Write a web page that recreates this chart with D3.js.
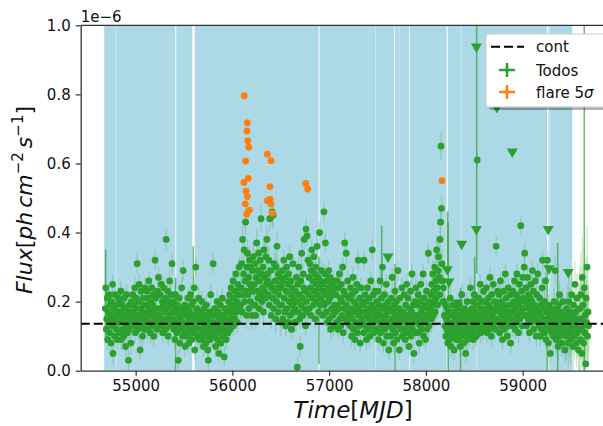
<!DOCTYPE html>
<html>
<head>
<meta charset="utf-8">
<script src="https://cdn.jsdelivr.net/npm/d3@7"></script>
<style>
  html, body { margin: 0; padding: 0; background: #fff; }
  svg { display: block; font-family: "DejaVu Sans", sans-serif; }
</style>
</head>
<body>
<svg id="chart" width="603" height="426"></svg>
<script>
// ticks
const xTicks = [55000, 56000, 57000, 58000, 59000];
const yTicks = [0.0, 0.2, 0.4, 0.6, 0.8, 1.0];

// light curve bins (MJD), flux in units of 1e-8 ph cm^-2 s^-1
const binStart = 54686;
const binWidth = 5;
const fluxTodos = [
  18,24,12,15,21,9,17,14,22,11,19,16,8,20,13,25,5,15,18,10,22,14,17,12,19,9,16,21,
  14,20,11,17,23,9,15,19,12,16,10,21,14,18,7,13,22,15,11,17,3,12,19,14,16,8,20,13,
  17,22,13,19,15,24,11,18,21,14,31,16,12,20,25,15,6,18,23,13,17,10,21,16,19,12,24,14,
  19,15,23,12,17,21,26,14,18,11,20,16,24,13,19,22,10,17,15,32,21,14,18,12,23,16,27,13,
  16,22,18,13,25,15,20,11,19,24,14,17,21,12,38,18,15,23,10,20,16,26,13,19,22,14,31,17,
  15,20,12,18,9,22,14,17,11,19,13,3,16,21,8,15,18,12,24,14,10,29,17,13,19,7,16,11,
  13,18,10,21,15,8,17,12,22,14,19,9,16,11,20,13,24,6,15,30,12,18,10,17,14,21,9,16,
  12,17,9,15,20,11,14,7,18,13,10,16,8,19,12,15,6,3,14,11,17,9,22,13,10,16,12,31,
  14,10,18,12,7,16,11,20,9,13,17,5,15,12,19,8,14,11,21,10,16,13,4,18,12,15,9,17,
  13,18,11,20,15,22,12,17,24,14,19,16,26,13,21,18,15,23,28,17,20,14,25,19,22,30,18,24,
  19,24,31,17,38,22,28,35,20,26,43,23,16,30,34,22,27,18,32,25,20,30,24,16,29,23,33,19,
  25,19,31,16,27,37,23,29,21,34,18,26,32,22,44,28,20,24,30,17,35,23,27,21,33,25,38,28,
  26,22,32,19,44,25,29,16,24,46,21,45,18,31,23,26,15,30,20,36,24,17,28,22,27,19,25,14,
  24,19,29,15,26,32,21,17,27,13,23,30,18,25,14,28,20,33,16,22,26,12,24,19,31,17,21,14,
  18,23,14,27,20,1,25,17,30,22,15,7,26,19,34,21,16,28,24,38,18,23,13,41,20,39,17,32,
  22,27,18,31,24,16,29,35,21,26,19,33,23,28,15,30,25,20,36,22,27,17,24,40,19,26,21,29,
  20,25,16,23,46,19,28,37,22,17,26,14,24,20,29,15,21,27,12,23,18,25,16,22,13,26,19,24,
  17,22,14,26,19,12,24,18,28,15,21,13,25,20,16,30,11,23,18,37,22,15,34,19,14,26,17,21,
  16,21,13,24,18,10,22,15,27,12,20,17,9,23,14,19,25,11,18,32,16,13,21,8,17,24,15,20,
  14,19,11,32,17,22,13,20,9,16,24,12,18,15,21,10,17,26,13,19,35,14,22,11,18,16,23,12,
  15,20,12,17,23,9,19,14,26,11,16,21,13,30,18,8,15,22,12,19,16,25,10,17,14,20,6,18,
  13,18,10,21,15,27,12,17,8,19,14,23,11,16,20,9,15,29,13,18,6,21,14,17,12,24,10,16,
  17,12,22,15,9,19,14,25,11,16,21,13,7,18,15,23,10,17,28,12,19,14,5,16,20,11,24,15,
  14,19,11,22,16,8,20,13,25,17,12,18,15,28,10,21,14,19,9,16,23,12,18,15,34,13,20,17,
  18,22,15,25,19,28,16,23,20,30,17,26,21,35,24,19,29,33,27,22,38,43,65,47,31,26,20,24,
  20,16,13,19,10,15,12,18,8,14,11,17,9,21,13,7,16,12,19,10,14,6,17,11,15,13,9,18,
  12,16,9,14,19,11,7,15,13,22,10,17,12,8,14,18,11,5,16,13,20,9,15,12,17,10,14,24,
  15,11,18,13,20,9,16,22,12,17,14,10,19,61,15,12,21,16,13,25,11,18,14,20,17,12,23,15,
  16,20,13,18,24,11,17,14,21,19,12,27,15,18,10,22,16,13,25,17,14,20,12,18,36,15,19,23,
  18,14,22,11,17,26,13,20,16,9,19,15,23,12,18,28,14,21,17,10,16,24,13,19,15,22,8,17,
  19,15,23,13,20,17,26,12,18,22,14,28,16,21,11,19,25,15,20,42,17,23,13,27,18,21,30,34,
  20,16,24,13,19,27,15,22,18,11,21,17,25,14,20,29,16,23,12,19,15,26,18,10,22,17,28,14,
  17,13,21,10,16,19,12,24,32,15,18,11,20,14,26,9,17,13,32,15,8,19,12,16,5,14,18,11,
  13,17,10,15,20,12,29,14,9,18,11,16,7,19,13,22,10,15,12,17,8,14,20,11,16,13,6,15,
  14,10,18,12,16,8,20,13,11,17,9,15,22,12,16,7,19,14,10,25,13,17,8,21,11,15,6,18,
  12,18,9,22,15,5,27,13,19,8,24,11,16,2,21,14,30,10,17,13
];
// typical 1-sigma error per block of 28 bins (1e-8)
const blockErr = [3,3,3,3,3,3,3,3,3,3,4,4,4,3,3,3,3,3,3,3,3,3,3,3,4,3,3,3,3,3,3,3,3,4,7,12];

// bins with large error bars (MJD, low, high in 1e-6)
const bigErrT  = [54690, 55413, 55595, 56895, 57543, 57680, 58225, 58230, 58359, 58504, 58525, 59254, 59362, 59637];
const bigErrLo = [0.08, 0.00, 0.12, 0.02, 0.24, 0.00, 0.29, 0.00, 0.00, 0.10, 0.28, 0.00, 0.00, 0.00];
const bigErrHi = [0.35, 0.27, 0.36, 0.33, 0.42, 0.31, 0.46, 0.43, 0.24, 0.33, 1.05, 0.31, 0.37, 1.05];

// upper limits (MJD, 1e-6)
const ulT = [57608, 58221, 58238, 58326, 58370, 58522, 58522, 58734, 58893, 59265, 59272, 59471];
const ulF = [0.330, 0.293, 0.258, 0.197, 0.367, 0.938, 0.410, 0.763, 0.634, 0.410, 0.296, 0.285];

// flare > 5 sigma points (MJD, 1e-6)
const flareT = [56123, 56154, 56151, 56158, 56168, 56137, 56164, 56120, 56141, 56154, 56133, 56175, 56148,
                56361, 56399, 56389, 56361, 56389, 56399, 56412, 56758, 56778, 58166];
const flareF = [0.796, 0.718, 0.694, 0.666, 0.647, 0.607, 0.557, 0.545, 0.520, 0.504, 0.483, 0.465, 0.453,
                0.627, 0.608, 0.533, 0.492, 0.497, 0.483, 0.456, 0.542, 0.526, 0.550];

const contLevel = 0.136;

// good time intervals shaded in light blue (MJD)
const spans = [[54675, 55410], [55420, 55585], [55610, 56891], [56901, 57673], [57681, 57828],
               [57836, 58214], [58226, 59252], [59266, 59513]];
const seams = [54800, 57480, 57722, 58362, 58525, 59283];

const green = '#2ca02c', orange = '#ff7f0e';

const svg = d3.select('#chart');
const pLeft = 80.7, pRight = 613.6, pTop = 25.3, pBottom = 370.7;

const x = d3.scaleLinear().domain([54432, 59940]).range([pLeft, pRight]);
const y = d3.scaleLinear().domain([0, 1]).range([pBottom, pTop]);

svg.append('defs').append('clipPath').attr('id', 'clip')
  .append('rect').attr('x', pLeft).attr('y', pTop).attr('width', pRight - pLeft).attr('height', pBottom - pTop);

const plot = svg.append('g').attr('clip-path', 'url(#clip)');

plot.selectAll('rect.span')
  .data(spans)
  .join('rect')
  .attr('x', d => x(d[0]))
  .attr('width', d => x(d[1]) - x(d[0]))
  .attr('y', pTop)
  .attr('height', pBottom - pTop)
  .attr('fill', '#add8e6');

plot.selectAll('line.seam')
  .data(seams)
  .join('line')
  .attr('x1', d => x(d)).attr('x2', d => x(d))
  .attr('y1', pTop).attr('y2', pBottom)
  .attr('stroke', '#fff').attr('stroke-opacity', 0.35).attr('stroke-width', 1);

const todos = fluxTodos.map((f, i) => ({
  t: binStart + binWidth * i,
  f: f / 100,
  e: blockErr[Math.floor(i / 28)] / 100
}));

plot.selectAll('line.err')
  .data(todos)
  .join('line')
  .attr('x1', d => x(d.t)).attr('x2', d => x(d.t))
  .attr('y1', d => y(Math.max(0, d.f - d.e))).attr('y2', d => y(d.f + d.e))
  .attr('stroke', green).attr('stroke-opacity', 0.25).attr('stroke-width', 1.2);

plot.selectAll('line.bigerr')
  .data(bigErrT)
  .join('line')
  .attr('x1', d => x(d)).attr('x2', d => x(d))
  .attr('y1', (d, i) => y(bigErrLo[i])).attr('y2', (d, i) => y(bigErrHi[i]))
  .attr('stroke', green).attr('stroke-opacity', 0.7).attr('stroke-width', 1.5);

plot.selectAll('circle.todos')
  .data(todos)
  .join('circle')
  .attr('cx', d => x(d.t)).attr('cy', d => y(d.f))
  .attr('r', 3.4).attr('fill', green);

const tri = d3.symbol().type(d3.symbolTriangle).size(52);
plot.selectAll('path.ul')
  .data(ulT)
  .join('path')
  .attr('d', tri)
  .attr('transform', (d, i) => `translate(${x(d)},${y(ulF[i])}) rotate(180)`)
  .attr('fill', green);

plot.selectAll('circle.flare')
  .data(flareT)
  .join('circle')
  .attr('cx', d => x(d)).attr('cy', (d, i) => y(flareF[i]))
  .attr('r', 3.4).attr('fill', orange);

plot.append('line')
  .attr('x1', pLeft).attr('x2', pRight)
  .attr('y1', y(contLevel)).attr('y2', y(contLevel))
  .attr('stroke', '#000').attr('stroke-width', 2).attr('stroke-dasharray', '9,4');

// axes
const xAxis = svg.append('g').attr('transform', `translate(0,${pBottom})`)
  .call(d3.axisBottom(x).tickValues(xTicks).tickFormat(d3.format('d')).tickSize(5).tickSizeOuter(0).tickPadding(5));
const yAxis = svg.append('g').attr('transform', `translate(${pLeft},0)`)
  .call(d3.axisLeft(y).tickValues(yTicks).tickFormat(d3.format('.1f')).tickSize(5).tickSizeOuter(0).tickPadding(5));

[xAxis, yAxis].forEach(a => {
  a.selectAll('text').attr('font-size', 15).attr('font-family', 'DejaVu Sans').attr('fill', '#111');
  a.selectAll('line').attr('stroke', '#333').attr('stroke-width', 1.2);
  a.select('.domain').attr('stroke', '#333').attr('stroke-width', 1.3);
});
svg.append('line').attr('x1', pLeft).attr('x2', 603).attr('y1', pTop).attr('y2', pTop)
  .attr('stroke', '#333').attr('stroke-width', 1.3);

svg.append('text').attr('x', pLeft).attr('y', 22).attr('font-size', 15).attr('fill', '#111')
  .text('1e\u22126');

// axis labels
const xl = svg.append('text').attr('x', 353).attr('y', 418).attr('text-anchor', 'middle')
  .attr('font-size', 23).attr('fill', '#111');
xl.append('tspan').attr('font-style', 'italic').text('Time');
xl.append('tspan').text('[');
xl.append('tspan').attr('font-style', 'italic').text('MJD');
xl.append('tspan').text(']');

const yl = svg.append('text').attr('transform', 'translate(32,200) rotate(-90)').attr('text-anchor', 'middle')
  .attr('font-size', 22).attr('fill', '#111');
yl.append('tspan').attr('font-style', 'italic').text('Flux');
yl.append('tspan').text('[');
yl.append('tspan').attr('font-style', 'italic').text('ph');
yl.append('tspan').attr('font-style', 'italic').attr('dx', 4).text('cm');
yl.append('tspan').attr('font-size', 15).attr('dy', -9).text('\u22122');
yl.append('tspan').attr('font-style', 'italic').attr('dx', 4).attr('dy', 9).text('s');
yl.append('tspan').attr('font-size', 15).attr('dy', -9).text('\u22121');
yl.append('tspan').attr('dy', 9).text(']');

// legend
const lg = svg.append('g');
lg.append('rect').attr('x', 489).attr('y', 37).attr('width', 130).attr('height', 73).attr('rx', 3)
  .attr('fill', '#000').attr('fill-opacity', 0.3);
lg.append('rect').attr('x', 486).attr('y', 34).attr('width', 130).attr('height', 73).attr('rx', 3)
  .attr('fill', '#fff').attr('stroke', '#ccc').attr('stroke-width', 1);
lg.append('line').attr('x1', 491).attr('x2', 524).attr('y1', 46.7).attr('y2', 46.7)
  .attr('stroke', '#000').attr('stroke-width', 2).attr('stroke-dasharray', '9,4');
[[green, 70], [orange, 92]].forEach(([c, cy]) => {
  lg.append('line').attr('x1', 499).attr('x2', 515).attr('y1', cy).attr('y2', cy).attr('stroke', c).attr('stroke-width', 2.5);
  lg.append('line').attr('x1', 507).attr('x2', 507).attr('y1', cy - 7).attr('y2', cy + 7).attr('stroke', c).attr('stroke-width', 2.5);
  lg.append('circle').attr('cx', 507).attr('cy', cy).attr('r', 2).attr('fill', c);
});
const lgText = [['cont', 52], ['Todos', 75.5], ['flare 5', 97.5]];
lgText.forEach(([t, yy], i) => {
  const tx = lg.append('text').attr('x', 536).attr('y', yy).attr('font-size', 15).attr('fill', '#111').text(t);
  if (i === 2) tx.append('tspan').attr('font-style', 'italic').text('\u03c3');
});
</script>
</body>
</html>
